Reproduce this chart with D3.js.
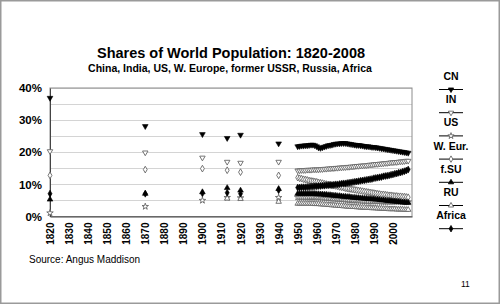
<!DOCTYPE html>
<html lang="en">

<head>
  <title>Shares of World Population: 1820-2008</title>
  <script src="https://d3js.org/d3.v7.min.js"></script>
  <style>
    body {
      font-family: Arial, "Liberation Sans", sans-serif;
      margin: 0;
      padding: 0;
      overflow: hidden;
      background: #fff;
    }

    .grid line {
      stroke: #d4d4d4;
      stroke-width: 1;
    }

    .axis text {
      font-weight: bold;
      fill: #000;
    }
  </style>
</head>

<body>
  <svg id="chart" width="500" height="304"></svg>

  <script>
    // Benchmark years before 1950 (shares in %)
    const earlyYears = [1820, 1870, 1900, 1913, 1920, 1940];
    const earlyCN = [36.9, 28.1, 25.6, 24.4, 25.4, 22.7];
    const earlyIN = [20.3, 19.9, 18.3, 17.0, 16.7, 17.0];
    const earlyUS = [1.1, 3.1, 5.0, 5.9, 5.8, 5.9];
    const earlyWEur = [12.8, 14.6, 14.9, 14.4, 13.8, 12.8];
    const earlyFSU = [5.3, 7.1, 7.6, 8.9, 8.1, 8.6];
    const earlyRU = [null, null, null, 5.6, 5.5, 4.6];
    const earlyAfrica = [7.1, 7.1, 7.2, 7.4, 7.1, 8.2];

    // Annual years 1950-2008
    const annualYears = d3.range(1950, 2009);
    const annualCN = [
      21.8, 21.9, 22.0, 22.0, 22.1, 22.1, 22.2, 22.3, 22.3, 22.1,
      21.8, 21.4, 21.3, 21.5, 21.7, 21.9, 22.1, 22.2, 22.3, 22.5,
      22.6, 22.7, 22.7, 22.8, 22.8, 22.8, 22.7, 22.6, 22.5, 22.4,
      22.3, 22.2, 22.2, 22.1, 22.0, 21.9, 21.8, 21.8, 21.7, 21.6,
      21.6, 21.5, 21.4, 21.3, 21.2, 21.1, 21.0, 20.9, 20.8, 20.7,
      20.6, 20.5, 20.4, 20.3, 20.2, 20.1, 20.0, 19.9, 19.8
    ];
    const annualIN = [
      14.3, 14.3, 14.4, 14.4, 14.4, 14.5, 14.5, 14.5, 14.6, 14.6,
      14.6, 14.6, 14.7, 14.7, 14.8, 14.8, 14.9, 14.9, 15.0, 15.0,
      15.1, 15.1, 15.2, 15.2, 15.3, 15.3, 15.4, 15.4, 15.5, 15.5,
      15.6, 15.7, 15.7, 15.8, 15.8, 15.9, 15.9, 16.0, 16.1, 16.1,
      16.2, 16.3, 16.3, 16.4, 16.4, 16.5, 16.6, 16.6, 16.7, 16.8,
      16.8, 16.9, 16.9, 17.0, 17.1, 17.1, 17.2, 17.3, 17.3
    ];
    const annualUS = [
      6.0, 6.0, 6.0, 6.0, 6.0, 6.0, 6.0, 6.0, 6.0, 6.0,
      5.9, 5.9, 5.9, 5.8, 5.8, 5.7, 5.7, 5.6, 5.6, 5.5,
      5.5, 5.4, 5.4, 5.3, 5.3, 5.2, 5.2, 5.1, 5.1, 5.0,
      5.0, 5.0, 4.9, 4.9, 4.8, 4.8, 4.8, 4.7, 4.7, 4.7,
      4.7, 4.7, 4.7, 4.7, 4.6, 4.6, 4.6, 4.6, 4.6, 4.6,
      4.6, 4.6, 4.6, 4.6, 4.6, 4.5, 4.5, 4.5, 4.5
    ];
    const annualWEur = [
      12.1, 11.9, 11.8, 11.6, 11.5, 11.4, 11.2, 11.1, 11.0, 10.9,
      10.8, 10.6, 10.5, 10.4, 10.2, 10.1, 10.0, 9.9, 9.7, 9.6,
      9.5, 9.4, 9.2, 9.1, 9.0, 8.8, 8.7, 8.6, 8.5, 8.4,
      8.3, 8.2, 8.1, 8.0, 7.9, 7.8, 7.7, 7.6, 7.5, 7.4,
      7.3, 7.2, 7.1, 7.0, 6.9, 6.9, 6.8, 6.7, 6.6, 6.6,
      6.5, 6.4, 6.4, 6.3, 6.3, 6.2, 6.2, 6.1, 6.0
    ];
    const annualFSU = [
      7.1, 7.1, 7.1, 7.1, 7.1, 7.1, 7.1, 7.1, 7.1, 7.1,
      7.0, 7.0, 6.9, 6.9, 6.8, 6.8, 6.7, 6.7, 6.6, 6.5,
      6.5, 6.4, 6.4, 6.3, 6.2, 6.2, 6.1, 6.1, 6.0, 5.9,
      5.9, 5.8, 5.8, 5.7, 5.7, 5.6, 5.6, 5.5, 5.5, 5.4,
      5.4, 5.3, 5.3, 5.2, 5.1, 5.1, 5.0, 4.9, 4.9, 4.8,
      4.7, 4.7, 4.6, 4.6, 4.5, 4.4, 4.4, 4.3, 4.3
    ];
    const annualRU = [
      4.0, 4.0, 4.0, 4.0, 4.0, 4.0, 4.0, 4.0, 4.0, 3.9,
      3.9, 3.9, 3.8, 3.8, 3.7, 3.7, 3.6, 3.6, 3.5, 3.5,
      3.4, 3.4, 3.3, 3.3, 3.2, 3.2, 3.1, 3.1, 3.0, 3.0,
      3.0, 2.9, 2.9, 2.8, 2.8, 2.8, 2.7, 2.7, 2.7, 2.6,
      2.6, 2.6, 2.5, 2.5, 2.5, 2.4, 2.4, 2.4, 2.3, 2.3,
      2.3, 2.3, 2.2, 2.2, 2.2, 2.2, 2.1, 2.1, 2.1
    ];
    const annualAfrica = [
      9.0, 9.0, 9.1, 9.1, 9.1, 9.2, 9.2, 9.3, 9.3, 9.4,
      9.4, 9.5, 9.5, 9.6, 9.6, 9.7, 9.7, 9.8, 9.8, 9.9,
      10.0, 10.0, 10.1, 10.2, 10.3, 10.3, 10.4, 10.5, 10.6, 10.7,
      10.8, 10.9, 11.0, 11.1, 11.2, 11.3, 11.4, 11.5, 11.6, 11.7,
      11.9, 12.0, 12.1, 12.2, 12.3, 12.5, 12.6, 12.7, 12.8, 13.0,
      13.1, 13.3, 13.4, 13.6, 13.7, 13.9, 14.1, 14.3, 14.6
    ];

    const xTicks = d3.range(1820, 2001, 10);
    const yTicks = [0, 10, 20, 30, 40];
    const yGrid = [5, 10, 15, 20, 25, 30, 35, 40];

    // Series in Excel draw order (later on top)
    const series = [
      { name: "CN", early: earlyCN, annual: annualCN, symbol: d3.symbolTriangle, rotate: 180, filled: true },
      { name: "IN", early: earlyIN, annual: annualIN, symbol: d3.symbolTriangle, rotate: 180, filled: false },
      { name: "US", early: earlyUS, annual: annualUS, symbol: d3.symbolStar, rotate: 0, filled: false },
      { name: "W. Eur.", early: earlyWEur, annual: annualWEur, symbol: d3.symbolDiamond, rotate: 0, filled: false },
      { name: "f.SU", early: earlyFSU, annual: annualFSU, symbol: d3.symbolTriangle, rotate: 0, filled: true },
      { name: "RU", early: earlyRU, annual: annualRU, symbol: d3.symbolTriangle, rotate: 0, filled: false },
      { name: "Africa", early: earlyAfrica, annual: annualAfrica, symbol: d3.symbolDiamond, rotate: 0, filled: true }
    ];

    const svg = d3.select("#chart");

    // Slide frame
    svg.append("rect")
      .attr("x", 0.75).attr("y", 0.75)
      .attr("width", 498.5).attr("height", 302.5)
      .attr("fill", "#fff")
      .attr("stroke", "#9a9a9a")
      .attr("stroke-width", 1.5);

    const plot = { left: 50, right: 412, top: 88, bottom: 216.5 };

    const x = d3.scaleLinear().domain([1820, 2010]).range([plot.left, plot.right]);
    const y = d3.scaleLinear().domain([0, 40]).range([plot.bottom, plot.top]);

    // Titles
    svg.append("text")
      .attr("x", 231).attr("y", 58)
      .attr("text-anchor", "middle")
      .attr("font-size", 14.5).attr("font-weight", "bold")
      .text("Shares of World Population: 1820-2008");

    svg.append("text")
      .attr("x", 230).attr("y", 72)
      .attr("text-anchor", "middle")
      .attr("font-size", 10.5).attr("font-weight", "bold")
      .text("China, India, US, W. Europe, former USSR, Russia, Africa");

    // Gridlines
    svg.append("g")
      .attr("class", "grid")
      .selectAll("line")
      .data(yGrid)
      .join("line")
      .attr("x1", plot.left).attr("x2", plot.right)
      .attr("y1", d => Math.round(y(d)) + 0.5)
      .attr("y2", d => Math.round(y(d)) + 0.5);

    // Plot area border
    svg.append("rect")
      .attr("x", plot.left).attr("y", plot.top)
      .attr("width", plot.right - plot.left)
      .attr("height", plot.bottom - plot.top)
      .attr("fill", "none")
      .attr("stroke", "#8c8c8c")
      .attr("stroke-width", 1);

    // Y axis
    const yAxis = svg.append("g")
      .attr("class", "axis")
      .attr("transform", `translate(${plot.left},0)`)
      .call(d3.axisLeft(y).tickValues(yTicks).tickFormat(d => d + "%").tickSize(0).tickPadding(8));
    yAxis.select(".domain").attr("stroke", "#444");
    yAxis.selectAll("text").attr("font-size", 11.5).attr("font-family", "Arial, 'Liberation Sans', sans-serif");

    // X axis
    const xAxis = svg.append("g")
      .attr("class", "axis")
      .attr("transform", `translate(0,${plot.bottom})`)
      .call(d3.axisBottom(x).tickValues(xTicks).tickFormat(d3.format("d")).tickSize(0));
    xAxis.select(".domain").attr("stroke", "#444");
    xAxis.selectAll("text")
      .attr("font-size", 10)
      .attr("font-family", "Arial, 'Liberation Sans', sans-serif")
      .attr("transform", "rotate(-90)")
      .attr("text-anchor", "end")
      .attr("x", -6)
      .attr("y", 0)
      .attr("dy", "0.35em");

    function symbolPath(s, size) {
      return d3.symbol().type(s.symbol).size(size)();
    }

    const markers = svg.append("g");

    series.forEach(s => {
      const pts = [];
      earlyYears.forEach((yr, i) => {
        if (s.early[i] != null) pts.push([yr, s.early[i]]);
      });
      annualYears.forEach((yr, i) => pts.push([yr, s.annual[i]]));

      markers.append("g")
        .selectAll("path")
        .data(pts)
        .join("path")
        .attr("transform", d => `translate(${x(d[0])},${y(d[1])}) rotate(${s.rotate})`)
        .attr("d", symbolPath(s, s.filled ? 14 : 13))
        .attr("fill", s.filled ? "#000" : "#fff")
        .attr("stroke", s.filled ? "#000" : "#666")
        .attr("stroke-width", s.filled ? 0.6 : 0.9);
    });

    // Legend
    const legend = svg.append("g").attr("transform", "translate(451,0)");
    const legendTop = 80;
    const legendStep = 23.2;

    series.forEach((s, i) => {
      const ty = legendTop + i * legendStep;
      legend.append("text")
        .attr("x", 0).attr("y", ty)
        .attr("text-anchor", "middle")
        .attr("font-size", 10.5).attr("font-weight", "bold")
        .text(s.name);
      legend.append("line")
        .attr("x1", -12).attr("x2", 12)
        .attr("y1", ty + 9.5).attr("y2", ty + 9.5)
        .attr("stroke", "#000").attr("stroke-width", 1);
      legend.append("path")
        .attr("transform", `translate(0,${ty + 9.5}) rotate(${s.rotate})`)
        .attr("d", symbolPath(s, 12))
        .attr("fill", s.filled ? "#000" : "#fff")
        .attr("stroke", s.filled ? "#000" : "#555")
        .attr("stroke-width", 0.8);
    });

    // Source and page number
    svg.append("text")
      .attr("x", 29).attr("y", 263)
      .attr("font-size", 10)
      .text("Source: Angus Maddison");

    svg.append("text")
      .attr("x", 461).attr("y", 287)
      .attr("font-size", 8.5)
      .text("11");
  </script>
</body>

</html>
